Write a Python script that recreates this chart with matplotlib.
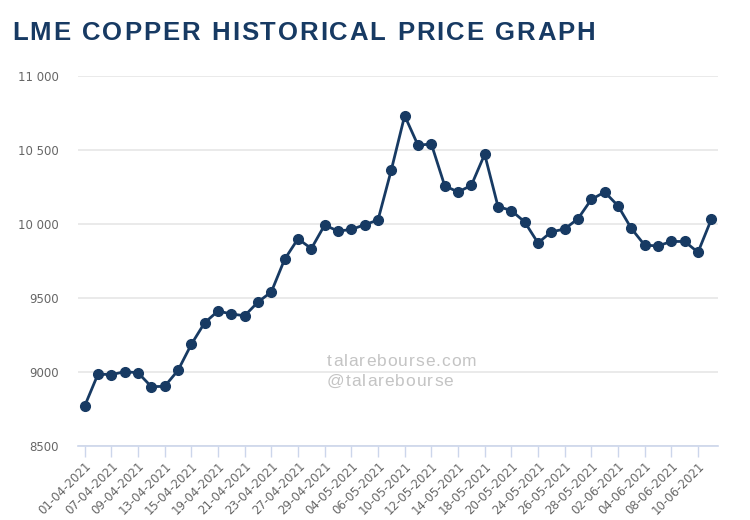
import matplotlib
matplotlib.use("Agg")
import matplotlib.pyplot as plt
from matplotlib.ticker import FuncFormatter

# ---------------------------------------------------------------------------
# Data
# ---------------------------------------------------------------------------

dates = [
    "01-04-2021", "06-04-2021", "07-04-2021", "08-04-2021", "09-04-2021", "12-04-2021",
    "13-04-2021", "14-04-2021", "15-04-2021", "16-04-2021", "19-04-2021", "20-04-2021",
    "21-04-2021", "22-04-2021", "23-04-2021", "26-04-2021", "27-04-2021", "28-04-2021",
    "29-04-2021", "30-04-2021", "04-05-2021", "05-05-2021", "06-05-2021", "07-05-2021",
    "10-05-2021", "11-05-2021", "12-05-2021", "13-05-2021", "14-05-2021", "17-05-2021",
    "18-05-2021", "19-05-2021", "20-05-2021", "21-05-2021", "24-05-2021", "25-05-2021",
    "26-05-2021", "27-05-2021", "28-05-2021", "01-06-2021", "02-06-2021", "03-06-2021",
    "04-06-2021", "07-06-2021", "08-06-2021", "09-06-2021", "10-06-2021", "11-06-2021",
]

prices = [
    8770, 8986, 8982, 9002, 8995, 8901, 8903, 9011, 9187, 9333, 9412, 9392,
    9380, 9473, 9541, 9762, 9900, 9834, 9993, 9952, 9963, 9995, 10027, 10366,
    10732, 10532, 10541, 10259, 10216, 10261, 10471, 10118, 10091, 10014, 9872, 9947,
    9966, 10036, 10166, 10216, 10123, 9970, 9857, 9852, 9882, 9882, 9809, 10032,
]

y_ticks = [8500, 9000, 9500, 10000, 10500, 11000]

title = "LME COPPER HISTORICAL PRICE GRAPH"
navy = "#173a63"


def fmt_price(v, _pos=None):
    v = int(round(v))
    if v >= 10000:
        return f"{v:,}".replace(",", " ")
    return str(v)


def spaced_text(fig, x_px, y_px, s, spacing_px, **kw):
    """Draw text char by char with extra letter spacing (pixel coords)."""
    renderer = fig.canvas.get_renderer()
    x = x_px
    for ch in s:
        t = fig.text(x / 750, 1 - y_px / 520, ch, ha="left", va="baseline", **kw)
        if ch == " ":
            w = fig.text(0, 0, "a", **kw)
            bb = w.get_window_extent(renderer)
            w.remove()
            width = bb.width * 0.55
        else:
            width = t.get_window_extent(renderer).width
        x += width + spacing_px


fig = plt.figure(figsize=(7.5, 5.2), dpi=100)
ax = fig.add_axes([78 / 750, 1 - 446 / 520, 640 / 750, 370 / 520])

x = list(range(len(prices)))
ax.plot(x, prices, color=navy, lw=2, marker="o", ms=7,
        markerfacecolor=navy, markeredgecolor=navy, zorder=3)

ax.set_xlim(-0.5, len(prices) - 0.5)
ax.set_ylim(y_ticks[0], y_ticks[-1])
ax.set_yticks(y_ticks)
ax.yaxis.set_major_formatter(FuncFormatter(fmt_price))
ax.grid(axis="y", color="#e6e6e6", lw=1.2)
ax.set_axisbelow(True)

tick_idx = x[::2]
ax.set_xticks(tick_idx)
ax.set_xticklabels([dates[i] for i in tick_idx], rotation=45, ha="right",
                   rotation_mode="anchor")

for s in ("top", "right", "left"):
    ax.spines[s].set_visible(False)
ax.spines["bottom"].set_color("#ccd6eb")
ax.spines["bottom"].set_linewidth(1.2)

ax.tick_params(axis="y", length=0, pad=14, labelsize=8.5, labelcolor="#666666")
ax.tick_params(axis="x", length=8, width=1, color="#ccd6eb", pad=2,
               labelsize=8.5, labelcolor="#666666")

spaced_text(fig, 12, 40, title, 1.85, fontsize=18.5, fontweight="bold",
            color=navy, family="Liberation Sans")

# watermark
spaced_text(fig, 327, 366, "talarebourse.com", 1.0, fontsize=12.5,
            color="#c4c4c4", family="Liberation Sans")
spaced_text(fig, 327, 386, "@talarebourse", 1.0, fontsize=12.5,
            color="#c4c4c4", family="Liberation Sans")

fig.savefig("out.png", dpi=100)
